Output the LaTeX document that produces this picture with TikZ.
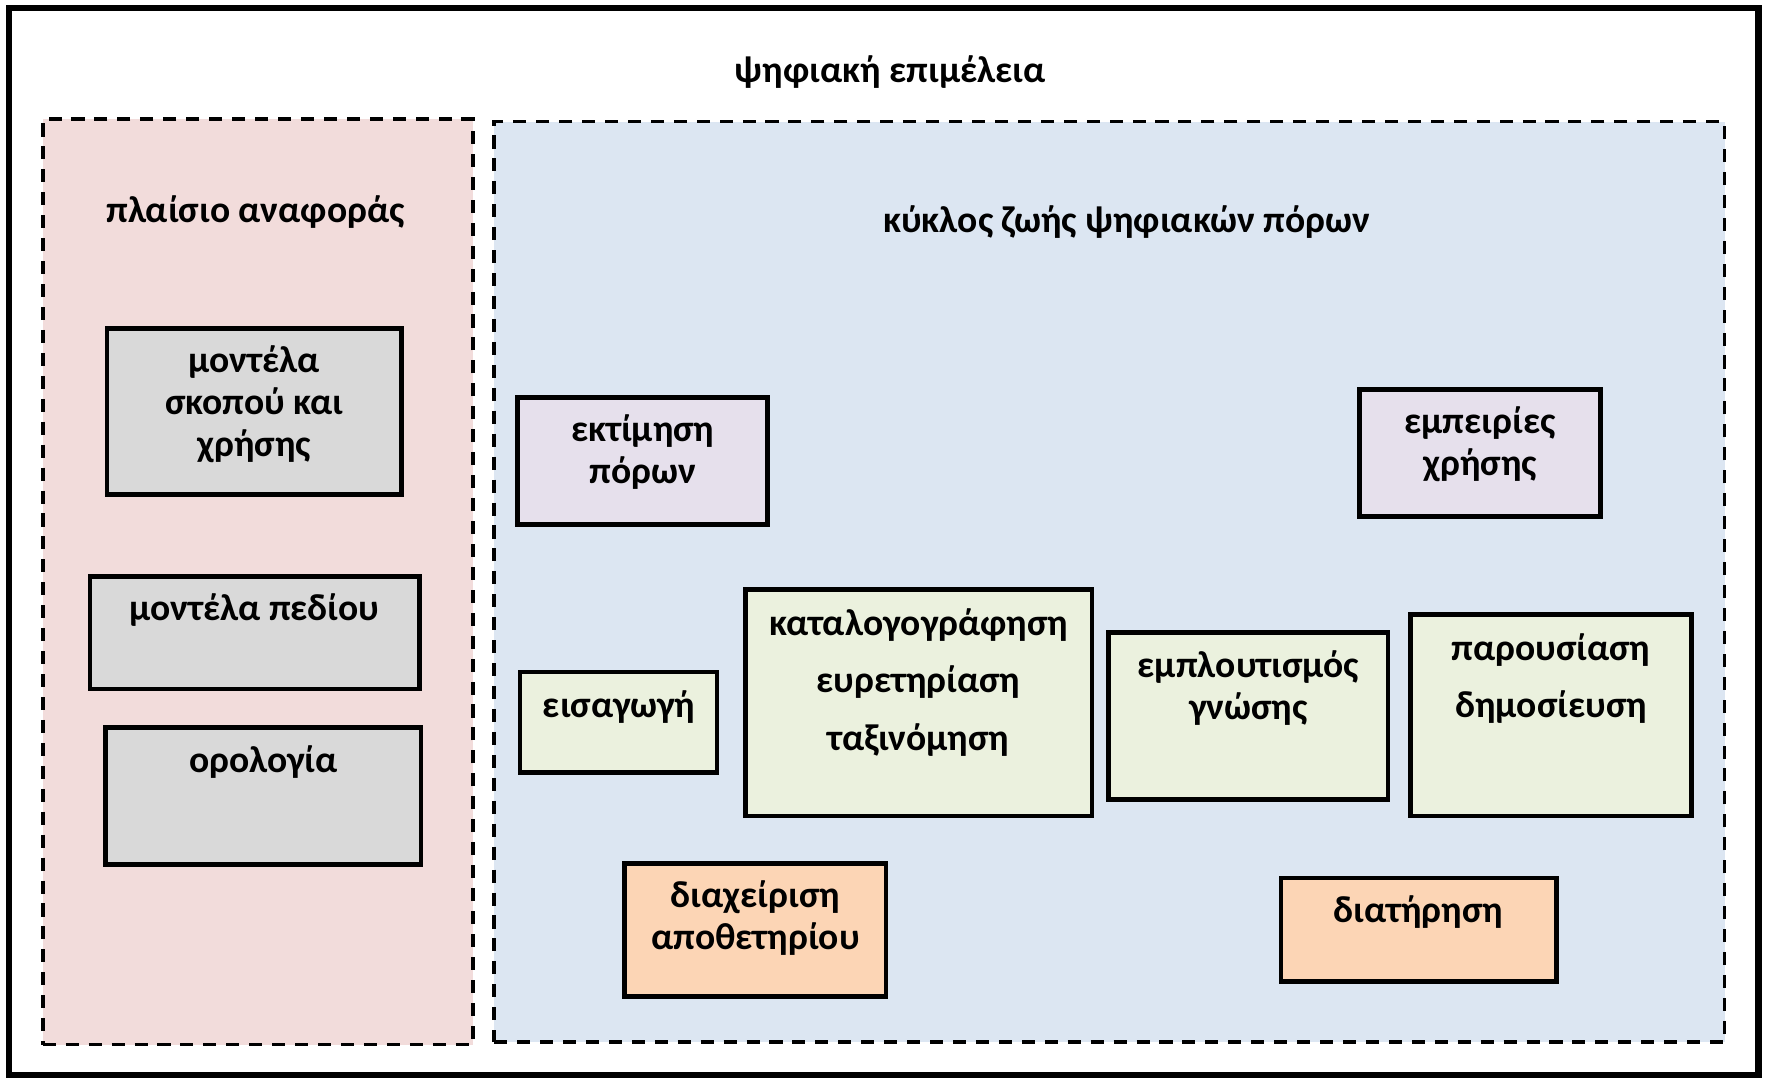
\documentclass[tikz,border=0pt]{standalone}
\usepackage{fontspec}
\setmainfont{Carlito}
\usetikzlibrary{fit}
\definecolor{pinkbg}{HTML}{F2DCDB}
\definecolor{bluebg}{HTML}{DCE6F2}
\definecolor{graybox}{HTML}{D9D9D9}
\definecolor{purplebox}{HTML}{E6E0EC}
\definecolor{greenbox}{HTML}{EBF1DE}
\definecolor{orangebox}{HTML}{FCD5B5}
\tikzset{
  region/.style={draw=black, line width=1.9pt, dash pattern=on 6.6pt off 5.0pt, inner sep=0pt},
  box/.style={draw=black, line width=2.4pt, inner sep=0pt},
  lbl/.style={font=\bfseries\fontsize{19}{21}\selectfont, align=center, inner sep=0pt, text=black, yshift=-1.2pt},
  lblw/.style={font=\bfseries\fontsize{19}{29}\selectfont, align=center, inner sep=0pt, text=black, yshift=-1.2pt},
}
\begin{document}
\begin{tikzpicture}[x=0.02cm,y=-0.02cm]
\useasboundingbox (0,0) rectangle (1568,960);
\fill[white] (0,0) rectangle (1568,960);
\node[draw=black, line width=3.4pt, inner sep=0pt, fit={(8,7) (1562,955)}] (outer) {};
\node[lbl] (title) at (791,62) {ψηφιακή επιμέλεια};

\node[region, fill=pinkbg, fit={(38,106) (420,928)}] (ref) {};
\node[lbl] (reft) at (227,186) {πλαίσιο αναφοράς};
\node[region, fill=bluebg, fit={(439,108) (1532,926)}] (life) {};
\node[lbl] (lifet) at (1001,195) {κύκλος ζωής ψηφιακών πόρων};

% reference frame boxes
\node[box, fill=graybox, fit={(95,292) (357,439)}] (m1) {};
\node[lbl] (m1t) at (226,357) {μοντέλα\\σκοπού και\\χρήσης};
\node[box, fill=graybox, fit={(80,512) (373,612)}] (m2) {};
\node[lbl] (m2t) at (226,540) {μοντέλα πεδίου};
\node[box, fill=graybox, fit={(94,646) (374,768)}] (m3) {};
\node[lbl] (m3t) at (234,675) {ορολογία};

% lifecycle boxes
\node[box, fill=purplebox, fit={(460,353) (682,466)}] (p1) {};
\node[lbl] (p1t) at (571,399.5) {εκτίμηση\\πόρων};
\node[box, fill=purplebox, fit={(1208,346) (1422,459)}] (p2) {};
\node[lbl] (p2t) at (1315,392.5) {εμπειρίες\\χρήσης};

\node[box, fill=greenbox, fit={(462,597) (637,686)}] (g1) {};
\node[lbl] (g1t) at (550,626) {εισαγωγή};
\node[box, fill=greenbox, fit={(662,524) (970,725)}] (g2) {};
\node[lblw] (g2t) at (816,604) {καταλογογράφηση\\ευρετηρίαση\\ταξινόμηση};
\node[box, fill=greenbox, fit={(985,562) (1233,710)}] (g3) {};
\node[lbl] (g3t) at (1109,609) {εμπλουτισμός\\γνώσης};
\node[box, fill=greenbox, fit={(1253,546) (1503,725)}] (g4) {};
\node[lblw] (g4t) at (1378,600.5) {παρουσίαση\\δημοσίευση};

\node[box, fill=orangebox, fit={(555,767) (787,885)}] (o1) {};
\node[lbl] (o1t) at (671,813.5) {διαχείριση\\αποθετηρίου};
\node[box, fill=orangebox, fit={(1138,780) (1383,872)}] (o2) {};
\node[lbl] (o2t) at (1260,808) {διατήρηση};
\end{tikzpicture}
\end{document}
